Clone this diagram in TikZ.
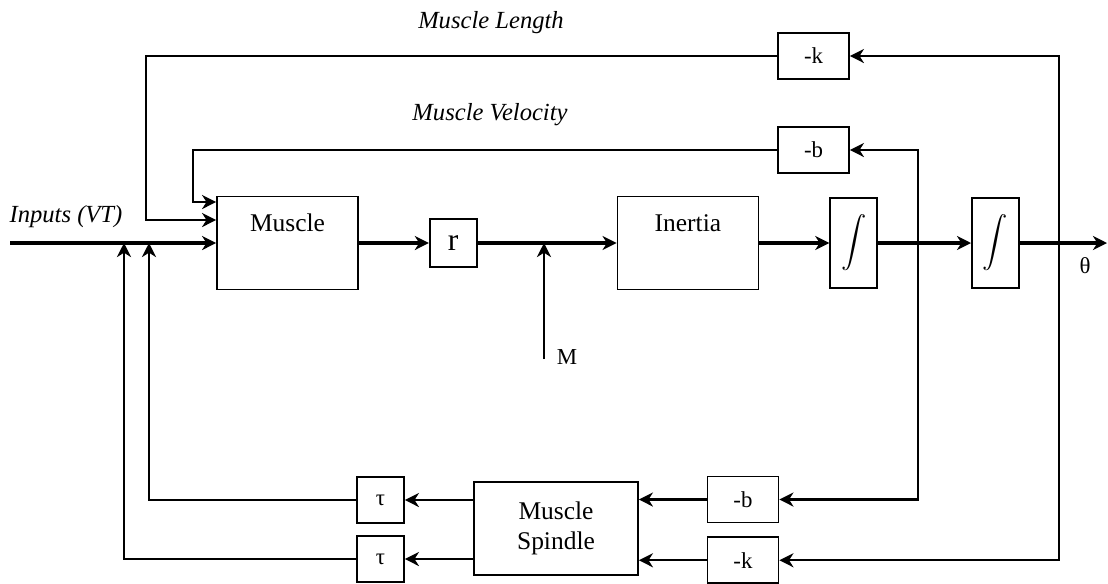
\documentclass[tikz,border=0pt]{standalone}
\usepackage{amsmath}
\usepackage{fontspec}
\setmainfont{Liberation Serif}
\usetikzlibrary{arrows, arrows.meta, positioning, calc}

\begin{document}
\begin{tikzpicture}[
    x=0.02cm, y=-0.02cm,
    % styles
    box/.style={rectangle, draw=black, line width=1pt, inner sep=0pt},
    block/.style={box, minimum width=2.82cm, minimum height=1.86cm, font=\fontsize{14.5}{17.4}\selectfont, text height=0.35cm, text depth=0.8cm},
    gain/.style={box, minimum width=1.42cm, minimum height=0.92cm, font=\fontsize{13}{15}\selectfont},
    taubox/.style={box, minimum width=0.94cm, minimum height=0.92cm, font=\fontsize{13}{15}\selectfont},
    intbox/.style={box, minimum width=0.94cm, minimum height=1.8cm, font=\fontsize{13.5}{16}\selectfont},
    note/.style={font=\itshape\fontsize{14}{17}\selectfont},
    small/.style={font=\fontsize{13}{15}\selectfont},
    >={Stealth[length=8pt, width=8pt, inset=2.5pt]},
    mainline/.style={line width=2pt, ->},
    arrow/.style={line width=1.4pt, ->}
  ]
  \useasboundingbox (0,0) rectangle (1108,583);

  % forward path
  \node (muscle)  [block] at (287.5,243) {Muscle};
  \node (r)       [box, minimum width=0.94cm, minimum height=0.96cm, font=\fontsize{18}{20}\selectfont, right=1.4cm of muscle] {r};
  \node (inertia) [block, right=2.78cm of r] {Inertia};
  \node (int1)    [intbox, right=1.4cm of inertia] {$\displaystyle\int$};
  \node (int2)    [intbox, right=1.86cm of int1] {$\displaystyle\int$};

  % feedback gains
  \node (topk) [gain] at (813.5,56) {-k};
  \node (topb) [gain] at (813.5,150) {-b};
  \node (botb) [gain] at (743,499.5) {-b};
  \node (botk) [gain, below=0.26cm of botb] {-k};
  \node (spindle) [box, minimum width=3.28cm, minimum height=1.86cm, align=center, font=\fontsize{14.5}{17.4}\selectfont] at (556,528.5) {Muscle\\Spindle};
  \node (tau1) [taubox] at (380.5,500) {τ};
  \node (tau2) [taubox] at (380.5,559) {τ};

  % labels
  \node (lenlabel) [note] at (491,23) {Muscle Length};
  \node (vellabel) [note] at (490,115) {Muscle Velocity};
  \node (inlabel)  [note] at (66,217) {Inputs (VT)};
  \node (mlabel)   [small] at (567,357) {M};
  \node (theta)    [small] at (1085,266) {θ};

  \coordinate (input) at (10,243);
  \coordinate (output) at (1107,243);
  \coordinate (mload) at (544,359);
  \coordinate (vtap) at (918,243);
  \coordinate (ptap) at (1059,243);
  \coordinate (sum1) at (149,243);
  \coordinate (sum2) at (124,243);
  \coordinate (kin) at ($(muscle.west)+(0,-23)$);
  \coordinate (bin) at ($(muscle.west)+(0,-41)$);

  % main line
  \draw [mainline] (input) -- (muscle);
  \draw [mainline] (muscle) -- (r);
  \draw [mainline] (r) -- (inertia);
  \draw [mainline] (inertia) -- (int1);
  \draw [mainline] (int1) -- (int2);
  \draw [mainline] (int2) -- (output);
  \draw [arrow] (mload) -- (mload |- r);

  % taps back to the gains
  \draw [arrow, <->] (topb.east) -| (vtap) |- (botb.east);
  \draw [arrow, <->] (topk.east) -| (ptap) |- (botk.east);

  % top loops into muscle
  \draw [arrow] (topk.west) -| ($(kin)+(-70,0)$) -- (kin);
  \draw [arrow] (topb.west) -| ($(bin)+(-23,0)$) -- (bin);

  % spindle loops
  \draw [arrow] (botb.west) -- (botb.west -| spindle.east);
  \draw [arrow] (botk.west) -- (botk.west -| spindle.east);
  \draw [arrow] (tau1.east -| spindle.west) -- (tau1.east);
  \draw [arrow] (tau2.east -| spindle.west) -- (tau2.east);
  \draw [arrow] (tau1.west) -| (sum1);
  \draw [arrow] (tau2.west) -| (sum2);
\end{tikzpicture}
\end{document}
